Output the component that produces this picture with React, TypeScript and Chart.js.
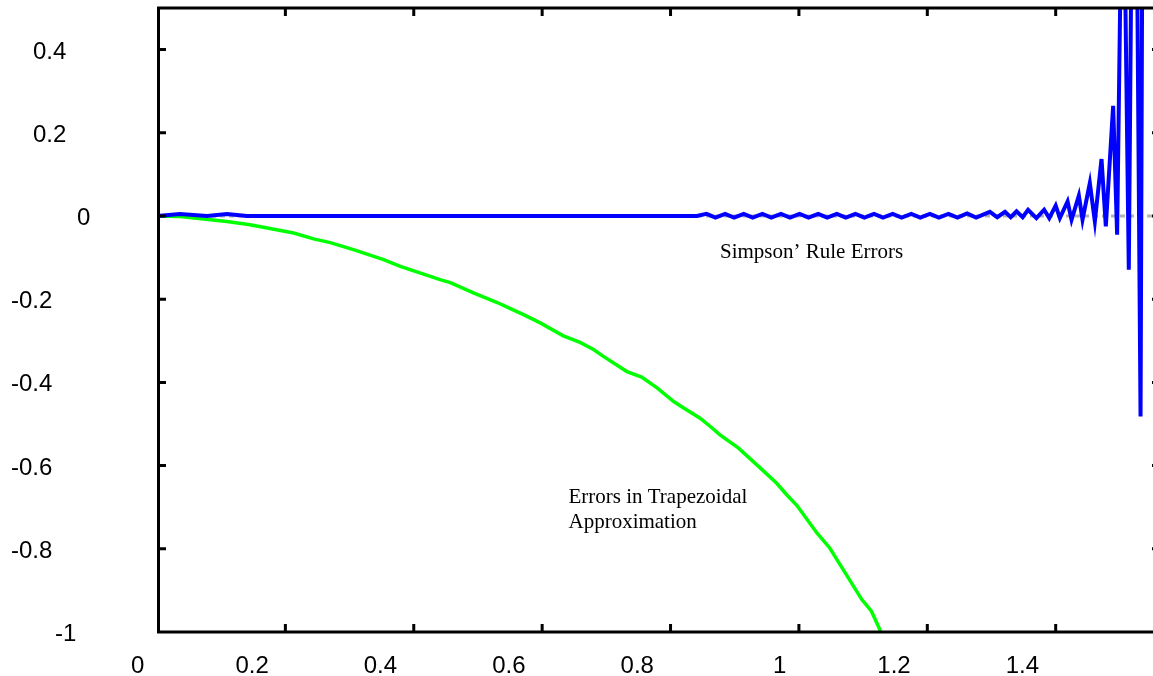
import React, { useEffect, useRef } from 'react';
import { Chart, registerables } from 'chart.js';

Chart.register(...registerables);

// ---- axis ticks ----
const xTicks = [0, 0.2, 0.4, 0.6, 0.8, 1, 1.2, 1.4];
const xTickLabels = ['0', '0.2', '0.4', '0.6', '0.8', '1', '1.2', '1.4'];
const yTicks = [-1, -0.8, -0.6, -0.4, -0.2, 0, 0.2, 0.4];
const yTickLabels = ['-1', '-0.8', '-0.6', '-0.4', '-0.2', '0', '0.2', '0.4'];
const xMin = 0;
const xMax = 1.5625;
const yMin = -1;
const yMax = 0.5;

// ---- Trapezoidal errors (green) ----
const trapX = [
  0, 0.036, 0.109, 0.145, 0.213, 0.244, 0.27, 0.306, 0.353, 0.379, 0.441, 0.457,
  0.493, 0.53, 0.548, 0.571, 0.597, 0.633, 0.659, 0.68, 0.696, 0.732, 0.755,
  0.779, 0.805, 0.815, 0.846, 0.862, 0.877, 0.906, 0.94, 0.965, 0.981, 0.997,
  1.028, 1.048, 1.069, 1.098, 1.113, 1.126, 1.135,
];
const trapY = [
  0, -0.001, -0.013, -0.021, -0.041, -0.055, -0.064, -0.081, -0.105, -0.121,
  -0.153, -0.16, -0.185, -0.208, -0.221, -0.237, -0.257, -0.288, -0.304, -0.321,
  -0.338, -0.374, -0.387, -0.413, -0.446, -0.456, -0.486, -0.506, -0.526, -0.558,
  -0.606, -0.642, -0.67, -0.696, -0.762, -0.798, -0.85, -0.922, -0.95, -0.994,
  -1.05,
];

// ---- Simpson's rule errors (blue) ----
const simpX = [
  0, 0.036, 0.078, 0.109, 0.14, 0.841,
  0.856, 0.87, 0.885, 0.899, 0.914, 0.928, 0.943, 0.957, 0.972, 0.986,
  1.001, 1.015, 1.03, 1.044, 1.059, 1.073, 1.088, 1.102, 1.117, 1.131,
  1.146, 1.16, 1.175, 1.189, 1.204, 1.218, 1.233, 1.247, 1.262, 1.276,
  1.2975, 1.309, 1.321, 1.33, 1.339, 1.3485, 1.357, 1.37, 1.382, 1.39,
  1.4, 1.4065, 1.4185, 1.4247, 1.4361, 1.4418, 1.4532, 1.461, 1.4714, 1.4781,
  1.4895, 1.4957, 1.5046, 1.5139, 1.5225, 1.5322, 1.5404,
];
const simpY = [
  0, 0.005, 0, 0.005, 0, 0,
  0.005, -0.004, 0.005, -0.004, 0.005, -0.004, 0.005, -0.004, 0.005, -0.004,
  0.005, -0.004, 0.005, -0.004, 0.005, -0.004, 0.005, -0.004, 0.005, -0.004,
  0.005, -0.004, 0.005, -0.004, 0.005, -0.004, 0.005, -0.004, 0.006, -0.004,
  0.01, -0.003, 0.01, -0.003, 0.011, -0.003, 0.015, -0.005, 0.015, -0.005,
  0.025, -0.005, 0.035, -0.009, 0.049, -0.009, 0.079, -0.013, 0.137, -0.025,
  0.265, -0.045, 1.0, -0.129, 1.5, -0.482, 3.0,
];

// ---- annotations ----
const simpLabel = ['Simpson\u2019 Rule Errors'];
const simpLabelAt = [0.877, -0.101];
const trapLabel = ['Errors in Trapezoidal', 'Approximation'];
const trapLabelAt = [0.641, -0.69];

const toPoints = (xs: number[], ys: number[]) => xs.map((x, i) => ({ x, y: ys[i] }));

const framePlugin = {
  id: 'gnuframe',
  beforeDatasetsDraw(chart: any) {
    const { ctx, chartArea: a, scales } = chart;
    const y0 = scales.y.getPixelForValue(0);
    ctx.save();
    ctx.strokeStyle = '#b4b4b4';
    ctx.lineWidth = 3;
    ctx.setLineDash([5, 4]);
    ctx.beginPath();
    ctx.moveTo(a.left, y0);
    ctx.lineTo(a.right, y0);
    ctx.stroke();
    ctx.restore();
  },
  afterDatasetsDraw(chart: any) {
    const { ctx, chartArea: a, scales } = chart;
    const xs = scales.x;
    const ys = scales.y;
    ctx.save();
    ctx.strokeStyle = '#000';
    ctx.lineWidth = 3;
    ctx.lineCap = 'butt';
    ctx.beginPath();
    ctx.moveTo(a.left + 1.5, a.bottom);
    ctx.lineTo(a.left + 1.5, a.top);
    ctx.moveTo(a.left, a.top);
    ctx.lineTo(a.right, a.top);
    ctx.moveTo(a.right, a.top);
    ctx.lineTo(a.right, a.bottom);
    ctx.moveTo(a.left, a.bottom);
    ctx.lineTo(a.right, a.bottom);
    ctx.stroke();
    const tl = 8;
    ctx.beginPath();
    xTicks.forEach((v) => {
      if (v === xMin) return;
      const px = xs.getPixelForValue(v);
      ctx.moveTo(px, a.bottom);
      ctx.lineTo(px, a.bottom - tl);
      ctx.moveTo(px, a.top);
      ctx.lineTo(px, a.top + tl);
    });
    yTicks.forEach((v) => {
      if (v === yMin) return;
      const py = ys.getPixelForValue(v);
      ctx.moveTo(a.left, py);
      ctx.lineTo(a.left + tl + 1, py);
      ctx.moveTo(a.right, py);
      ctx.lineTo(a.right - tl, py);
    });
    ctx.stroke();

    // tick labels
    ctx.fillStyle = '#000';
    ctx.font = '24px "Liberation Sans", Arial, sans-serif';
    ctx.textAlign = 'left';
    ctx.textBaseline = 'alphabetic';
    yTicks.forEach((v, i) => {
      const t = yTickLabels[i];
      const py = ys.getPixelForValue(v);
      ctx.fillText(t, 99 - 22 * t.length, py + 9);
    });
    xTicks.forEach((v, i) => {
      const t = xTickLabels[i];
      const px = xs.getPixelForValue(v);
      ctx.fillText(t, px - 14 - 12 * t.length, a.bottom + 41);
    });

    // annotations
    ctx.font = '21px "Liberation Serif", "Times New Roman", serif';
    const sx = xs.getPixelForValue(simpLabelAt[0]);
    const sy = ys.getPixelForValue(simpLabelAt[1]);
    simpLabel.forEach((t, i) => ctx.fillText(t, sx, sy + i * 25));
    const tx = xs.getPixelForValue(trapLabelAt[0]);
    const ty = ys.getPixelForValue(trapLabelAt[1]);
    trapLabel.forEach((t, i) => ctx.fillText(t, tx, ty + i * 25));
    ctx.restore();
  },
};

export default function App() {
  const ref = useRef<HTMLCanvasElement | null>(null);
  useEffect(() => {
    if (!ref.current) return;
    const chart = new Chart(ref.current, {
      type: 'line',
      data: {
        datasets: [
          {
            label: 'Simpson',
            data: toPoints(simpX, simpY),
            borderColor: '#0000ff',
            borderWidth: 4,
            pointRadius: 0,
            tension: 0,
            fill: false,
            clip: 0,
          },
          {
            label: 'Trapezoidal',
            data: toPoints(trapX, trapY),
            borderColor: '#00ff00',
            borderWidth: 3.5,
            pointRadius: 0,
            tension: 0,
            fill: false,
            clip: 0,
          },
        ],
      },
      options: {
        responsive: false,
        animation: false,
        devicePixelRatio: 1,
        layout: { padding: { top: 8, right: 10, left: 0, bottom: 0 } },
        plugins: { legend: { display: false }, tooltip: { enabled: false } },
        scales: {
          x: {
            type: 'linear',
            min: xMin,
            max: xMax,
            grid: { display: false },
            border: { display: false },
            ticks: { display: false },
            afterFit: (s: any) => {
              s.height = 44;
            },
          },
          y: {
            type: 'linear',
            min: yMin,
            max: yMax,
            grid: { display: false },
            border: { display: false },
            ticks: { display: false },
            afterFit: (s: any) => {
              s.width = 157;
            },
          },
        },
      } as any,
      plugins: [framePlugin],
    });
    return () => chart.destroy();
  }, []);
  return (
    <div
      style={{
        position: 'fixed',
        left: 0,
        top: 0,
        width: 1153,
        height: 676,
        overflow: 'hidden',
        background: '#fff',
      }}
    >
      <canvas ref={ref} width={1170} height={676} style={{ display: 'block', width: 1170, height: 676 }} />
    </div>
  );
}
